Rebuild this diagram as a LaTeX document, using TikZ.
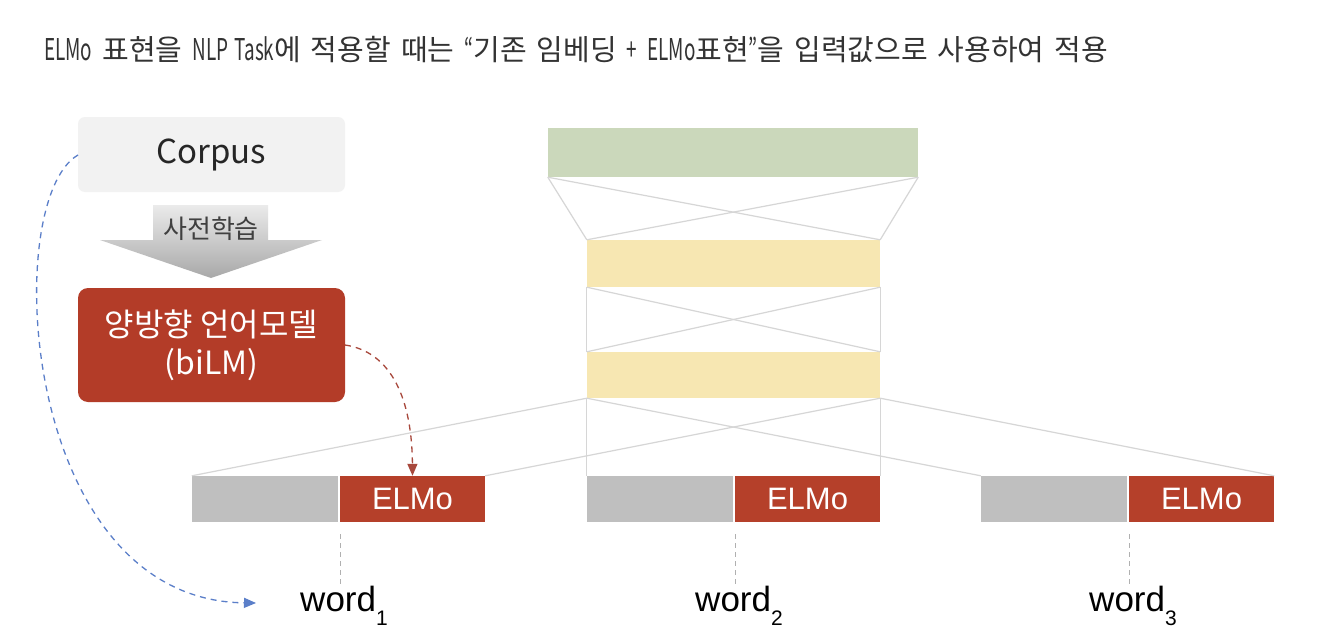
\documentclass[tikz,border=0pt]{standalone}
\usepackage{fontspec}
\usepackage{graphicx}
\setmainfont{Noto Sans CJK KR}
\newfontfamily\lib{Liberation Sans}
\newcommand{\Lt}[1]{{\fontsize{30}{32}\selectfont\scalebox{0.63}[1]{#1}}}
\usetikzlibrary{arrows.meta}
\definecolor{titlegray}{HTML}{333333}
\definecolor{corpusfill}{HTML}{F2F2F2}
\definecolor{bilmred}{HTML}{B33C28}
\definecolor{elmored}{HTML}{B5402A}
\definecolor{greenbar}{HTML}{CBD8BB}
\definecolor{yellowbar}{HTML}{F7E7B2}
\definecolor{graybox}{HTML}{BFBFBF}
\definecolor{thinline}{HTML}{D6D6D6}
\definecolor{dashgray}{HTML}{B0B0B0}
\definecolor{bluedash}{HTML}{5B7FC9}
\definecolor{reddash}{HTML}{A8483C}
\begin{document}
\begin{tikzpicture}[x=1pt,y=-1pt,
  bar/.style={inner sep=0pt, draw=none},
  wordbox/.style={inner sep=0pt, minimum width=146pt, minimum height=46pt, fill=graybox},
  elmobox/.style={inner sep=0pt, minimum width=145pt, minimum height=46pt, fill=elmored, text=white, font=\lib\fontsize{31}{34}\selectfont},
  wordlabel/.style={inner sep=0pt, font=\lib\fontsize{35}{38}\selectfont, text=black},
  conn/.style={draw=thinline, line width=1.2pt},
  guide/.style={draw=dashgray, dash pattern=on 5pt off 4pt, line width=1pt},
  curvearrow/.style={dash pattern=on 6pt off 5pt, line width=1.3pt, -{Triangle[length=12pt,width=10pt]}}]
\useasboundingbox (0,0) rectangle (1320,634);
\fill[white] (0,0) rectangle (1320,634);

% title
\node[anchor=base west, inner sep=0pt, text=titlegray, font=\fontsize{29}{32}\selectfont] (title) at (44,60)
  {\spaceskip=10pt\relax\Lt{ELMo} 표현을 \Lt{NLP Task}에 적용할 때는 \Lt{“}기존 임베딩 \Lt{+} \Lt{ELMo}표현\Lt{"}을 입력값으로 사용하여 적용};

% left column
\node[inner sep=0pt, minimum width=267pt, minimum height=75pt, fill=corpusfill, rounded corners=7pt,
  font=\fontsize{33}{36}\selectfont, text=black!85] (corpus) at (211.5,154.5) {Corpus};
\shade[top color=white!92!black, bottom color=white!66!black]
  (153,205) -- (268,205) -- (268,240) -- (322,240) -- (211,278) -- (100,240) -- (153,240) -- cycle;
\node[inner sep=0pt, font=\fontsize{26}{28}\selectfont, text=black!75] (pre) at (211,229) {사전학습};
\node[inner sep=0pt, minimum width=267pt, minimum height=114pt, fill=bilmred, rounded corners=10pt,
  align=center, text=white, font=\fontsize{32}{38}\selectfont] (bilm) at (211.5,345) {양방향 언어모델\\(biLM)};

% bars
\node[bar, minimum width=370pt, minimum height=49pt, fill=greenbar] (green) at (733,152.5) {};
\node[bar, minimum width=293pt, minimum height=47pt, fill=yellowbar] (ya) at (733.5,263.5) {};
\node[bar, minimum width=293pt, minimum height=46pt, fill=yellowbar] (yb) at (733.5,375) {};

% word boxes
\node[wordbox] (g1) at (265,499) {};
\node[elmobox] (e1) at (412.5,499) {ELMo};
\node[wordbox] (g2) at (660,499) {};
\node[elmobox] (e2) at (807.5,499) {ELMo};
\node[wordbox] (g3) at (1054,499) {};
\node[elmobox] (e3) at (1201.5,499) {ELMo};

% connecting lines
\draw[conn] (green.south west) -- (ya.north west);
\draw[conn] (green.south east) -- (ya.north east);
\draw[conn] (green.south west) -- (ya.north east);
\draw[conn] (green.south east) -- (ya.north west);
\draw[conn] (ya.south west) -- (yb.north west);
\draw[conn] (ya.south east) -- (yb.north east);
\draw[conn] (ya.south west) -- (yb.north east);
\draw[conn] (ya.south east) -- (yb.north west);
\draw[conn] (yb.south west) -- (g1.north west);
\draw[conn] (yb.south west) -- (g2.north west);
\draw[conn] (yb.south west) -- (g3.north west);
\draw[conn] (yb.south east) -- (e1.north east);
\draw[conn] (yb.south east) -- (e2.north east);
\draw[conn] (yb.south east) -- (e3.north east);

% words
\node[wordlabel] (w1) at (344,606) {word\raisebox{-0.40em}{\fontsize{21}{22}\selectfont 1}};
\node[wordlabel] (w2) at (739,606) {word\raisebox{-0.40em}{\fontsize{21}{22}\selectfont 2}};
\node[wordlabel] (w3) at (1133,606) {word\raisebox{-0.40em}{\fontsize{21}{22}\selectfont 3}};
\coordinate (d1a) at (340,534); \coordinate (d1b) at (340,585);
\coordinate (d2a) at (735,534); \coordinate (d2b) at (735,585);
\coordinate (d3a) at (1129,534); \coordinate (d3b) at (1129,585);
\draw[guide] (d1a) -- (d1b);
\draw[guide] (d2a) -- (d2b);
\draw[guide] (d3a) -- (d3b);

% dashed arrows
\coordinate (bluestart) at (78,155);
\coordinate (blueend) at (256,603);
\draw[draw=bluedash, curvearrow]
  (bluestart) .. controls (0,200) and (20,600) .. (blueend);
\coordinate (redstart) at (345,345);
\draw[draw=reddash, curvearrow]
  (redstart) .. controls (392,352) and (412,400) .. (e1.north);
\end{tikzpicture}
\end{document}
